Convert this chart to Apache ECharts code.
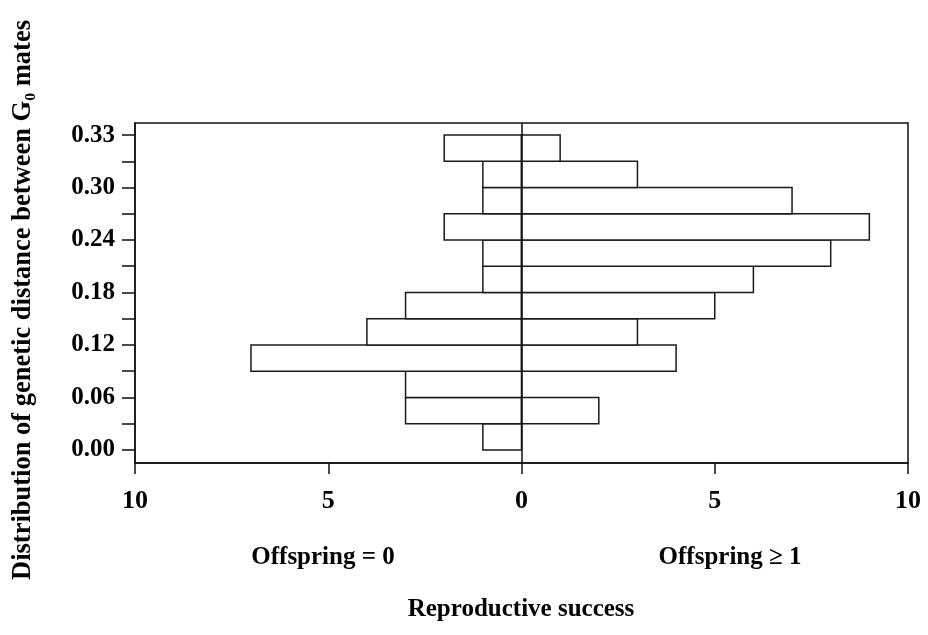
<!DOCTYPE html>
<html>
<head>
<meta charset="utf-8">
<script src="https://cdn.jsdelivr.net/npm/echarts@6/dist/echarts.min.js"></script>
<style>
html,body{margin:0;padding:0;background:#fff;}
#chart{width:928px;height:635px;}
</style>
</head>
<body>
<div id="chart"></div>
<script>
// Bins of genetic distance (bin index 0 = 0.00-0.03 ... 11 = top bin)
var binIndex = [0,1,2,3,4,5,6,7,8,9,10,11];
// Counts, Offspring = 0 (left side)
var offspringZero = [1,3,3,7,4,3,1,1,2,1,1,2];
// Counts, Offspring >= 1 (right side)
var offspringOne = [0,2,0,4,3,5,6,8,9,7,3,1];
// Y tick labels at bin edges
var yTickPositions = [0,2,4,6,8,10,12];
var yTickLabels = ["0.00","0.06","0.12","0.18","0.24","0.30","0.33"];
var yMinorTicks = [0,1,2,3,4,5,6,7,8,9,10,11,12];

var FONT = "'Liberation Serif','Times New Roman',serif";

var data = [];
binIndex.forEach(function(b,i){
  if (offspringZero[i] > 0) data.push([-offspringZero[i], b]);
  if (offspringOne[i] > 0) data.push([offspringOne[i], b]);
});

var chart = echarts.init(document.getElementById('chart'), null, {renderer:'canvas'});
chart.setOption({
  backgroundColor:'#fff',
  animation:false,
  grid:{left:135, right:20, top:123, bottom:172, show:true, borderColor:'#111', borderWidth:1.5, backgroundColor:'transparent'},
  xAxis:{
    type:'value', min:-10, max:10, interval:5,
    axisLine:{show:true, onZero:false, lineStyle:{color:'#111', width:1.5}},
    axisTick:{show:true, length:11, lineStyle:{color:'#111', width:1.5}},
    splitLine:{show:false},
    axisLabel:{margin:25, color:'#000', fontFamily:FONT, fontWeight:'bold', fontSize:26,
      formatter:function(v){return String(Math.abs(v));}}
  },
  yAxis:{
    type:'value', min:-0.5, max:12.46,
    axisLine:{show:true, onZero:false, lineStyle:{color:'#111', width:1.5}},
    axisTick:{show:true, length:13, customValues:yMinorTicks, lineStyle:{color:'#111', width:1.5}},
    splitLine:{show:false},
    axisLabel:{margin:20, color:'#000', fontFamily:FONT, fontWeight:'bold', fontSize:25,
      customValues:yTickPositions,
      formatter:function(v){var i=yTickPositions.indexOf(Math.round(v)); return i>=0?yTickLabels[i]:'';}}
  },
  graphic:[
    {type:'text', x:23, y:300, rotation:Math.PI/2,
      style:{text:'Distribution of genetic distance between G\u2080 mates', fill:'#000', font:'bold 26.5px '+FONT, textAlign:'center', textVerticalAlign:'middle'}},
    {type:'text', x:323, y:558, style:{text:'Offspring = 0', fill:'#000', font:'bold 25px '+FONT, textAlign:'center', textVerticalAlign:'middle'}},
    {type:'text', x:730, y:558, style:{text:'Offspring \u2265 1', fill:'#000', font:'bold 25px '+FONT, textAlign:'center', textVerticalAlign:'middle'}},
    {type:'text', x:521, y:610, style:{text:'Reproductive success', fill:'#000', font:'bold 25px '+FONT, textAlign:'center', textVerticalAlign:'middle'}}
  ],
  series:[{
    type:'custom',
    data:data,
    renderItem:function(params, api){
      var v = api.value(0), b = api.value(1);
      var p0 = api.coord([0, b]);
      var p1 = api.coord([v, b+1]);
      return {
        type:'rect',
        shape:{x:Math.min(p0[0],p1[0]), y:Math.min(p0[1],p1[1]), width:Math.abs(p1[0]-p0[0]), height:Math.abs(p1[1]-p0[1])},
        style:{fill:'#fff', stroke:'#1a1a1a', lineWidth:1.5}
      };
    },
    markLine:{
      silent:true, symbol:'none', label:{show:false},
      lineStyle:{color:'#111', width:1.5, type:'solid'},
      data:[{xAxis:0}]
    },
    z:2
  }]
});
</script>
</body>
</html>
